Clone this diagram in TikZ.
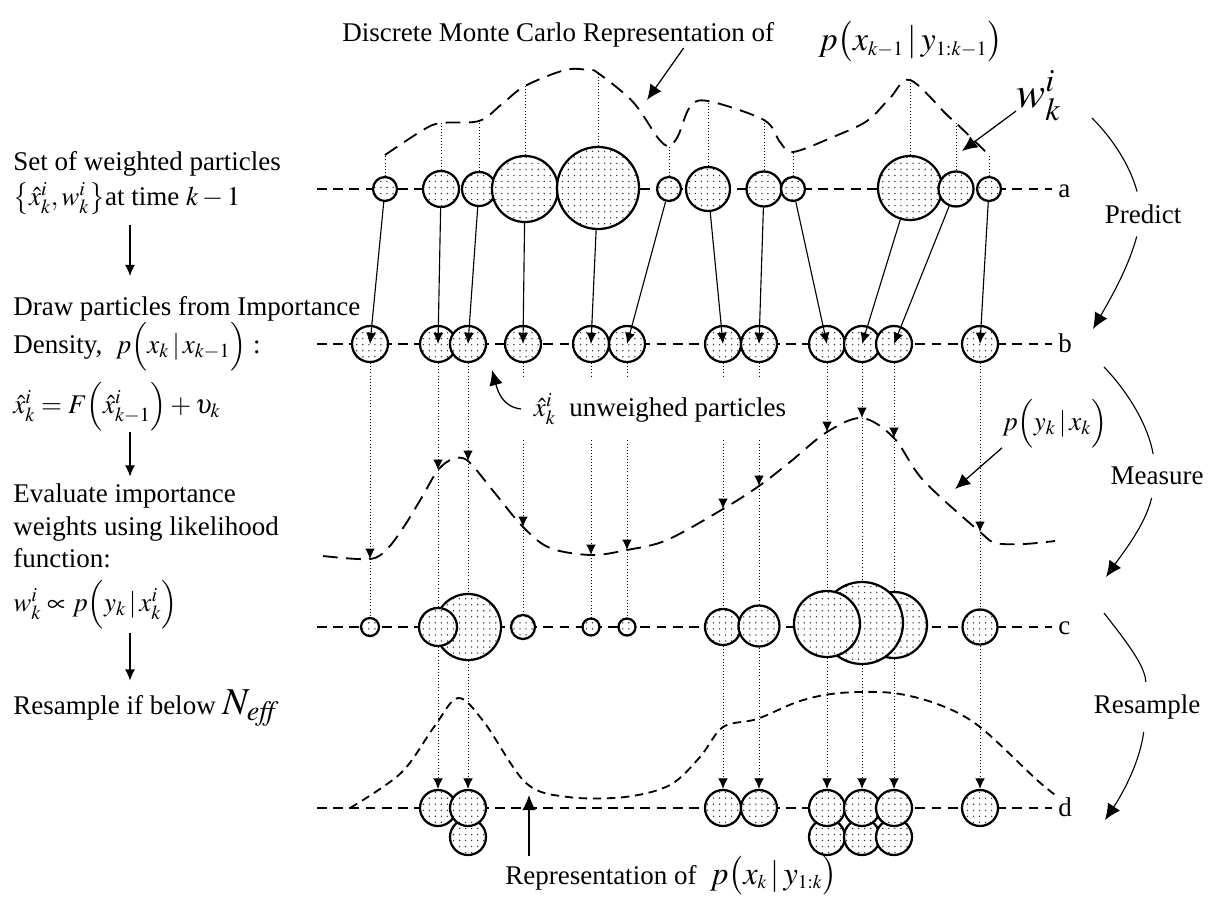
\documentclass[tikz,border=0pt]{standalone}
\usepackage{amsmath}
\usepackage{mathptmx}
\usepackage{fontspec}
\setmainfont{Liberation Serif}
\usetikzlibrary{arrows.meta,positioning,calc,patterns.meta}
\tikzset{
  >={Latex[length=2.8mm,width=2.5mm]},
  part/.style={circle,draw,line width=1.6pt,inner sep=0pt,minimum size=#1*0.05cm,
    preaction={fill=white},pattern={Dots[distance=4.3pt,radius=0.55pt]},pattern color=black!80},
  rowline/.style={line width=1.5pt,dash pattern=on 7pt off 4.5pt},
  dens/.style={line width=1.3pt,dash pattern=on 10.5pt off 6pt},
  post/.style={line width=1.3pt,dash pattern=on 6pt off 4pt},
  guide/.style={line width=0.7pt,dash pattern=on 0.7pt off 1.5pt},
  garr/.style={guide,-{Latex[length=2.6mm,width=2.4mm]}},
  parr/.style={->,line width=0.8pt},
  larr/.style={->,line width=0.8pt},
  bigarr/.style={line width=0.9pt,-{Latex[length=3.8mm,width=3.4mm]}},
  cyc/.style={line width=0.8pt},
  cycarr/.style={cyc,-{Latex[length=4mm,width=3.6mm]}},
  txt/.style={anchor=base west,inner sep=0pt},
  stage/.style={inner ysep=9pt,inner xsep=2pt},
}
\newcommand{\sss}{\scriptscriptstyle}

\begin{document}
\begin{tikzpicture}[x=0.025cm,y=-0.025cm,every node/.style={font=\fontsize{19.2}{23.1}\selectfont}]
\useasboundingbox (0,0) rectangle (1210,901);

% left column
\node[txt] (set1) at (13,170) {Set of weighted particles};
\node[txt] (set2) at (13,205) {$\bigl\{\hat{x}_k^i,w_k^i\bigr\}$at time $k-1$};
\node[txt] (draw1) at (13,315) {Draw particles from Importance};
\node[txt] (draw2) at (13,353) {Density,\ \ $p\Bigl(x_k\,|\,x_{k-1}\Bigr)$\ :};
\node[txt] (prop) at (13,413) {$\hat{x}_k^i=F\Bigl(\hat{x}_{k-1}^i\Bigr)+\upsilon_k$};
\node[txt] (eval1) at (13,502) {Evaluate importance};
\node[txt] (eval2) at (13,535) {weights using likelihood};
\node[txt] (eval3) at (13,567) {function:};
\node[txt] (wprop) at (13,611) {$w_k^i\propto p\Bigl(y_k\,|\,x_k^i\Bigr)$};
\node[txt] (resmp) at (13,714) {Resample if below {\fontsize{27}{30}\selectfont$N_{\mathit{eff}}$}};
\coordinate (lx) at (130,0);
\draw[larr,shorten <=7pt,shorten >=14pt] (set2.south -| lx) -- (draw1.north -| lx);
\draw[larr,shorten <=1pt,shorten >=4.6pt] (prop.south -| lx) -- (eval1.north -| lx);
\draw[larr,shorten <=3pt,shorten >=6pt] (wprop.south -| lx) -- (resmp.north -| lx);

% rows
\node[txt] (la) at (1058,197) {a};
\node[txt] (lb) at (1058,352) {b};
\node[txt] (lc) at (1058,634) {c};
\node[txt] (ld) at (1058,816) {d};
\coordinate (ra) at (317,189); \coordinate (rb) at (317,344);
\coordinate (rc) at (317,627); \coordinate (rd) at (317,808);
\draw[rowline,shorten >=4pt] (ra) -- (ra -| la.west);
\draw[rowline,shorten >=4pt] (rb) -- (rb -| lb.west);
\draw[rowline,shorten >=4pt] (rc) -- (rc -| lc.west);
\draw[rowline,shorten >=4pt] (rd) -- (rd -| ld.west);

% prior density
\coordinate (ta1) at (385,155); \coordinate (ta2) at (441,123); \coordinate (ta3) at (479,121);
\coordinate (ta4) at (525,86); \coordinate (ta5) at (598,73); \coordinate (ta6) at (669,146);
\coordinate (ta7) at (708,101); \coordinate (ta8) at (764,120); \coordinate (ta9) at (793,152);
\coordinate (ta10) at (910,80); \coordinate (ta11) at (956,123); \coordinate (ta12) at (989,155);
\draw[dens] plot[smooth,tension=0.55] coordinates {(ta1) (423,130) (ta2) (ta3) (502,104) (ta4) (565,70) (588,70) (ta5) (633,102) (658,138) (ta6) (678,136) (690,107) (ta7) (ta8) (780,142) (ta9) (833,137) (867,121) (890,98) (ta10) (947,115) (ta11) (ta12)};

% likelihood
\coordinate (l1) at (370,559); \coordinate (l2) at (438,470); \coordinate (l3) at (468,461);
\coordinate (l4) at (523,527); \coordinate (l5) at (591,555); \coordinate (l6) at (627,550);
\coordinate (l7) at (723,509); \coordinate (l8) at (759,486); \coordinate (l9) at (827,432);
\coordinate (l10) at (862,418); \coordinate (l11) at (894,438); \coordinate (l12) at (980,532);
\draw[dens] plot[smooth,tension=0.55] coordinates {(323,556) (l1) (388,548) (405,525) (422,497) (l2) (453,459) (l3) (494,492) (l4) (550,548) (l5) (l6) (667,540) (l7) (l8) (790,462) (l9) (l10) (l11) (923,480) (l12) (996,543) (1024,544) (1055,541)};

% posterior
\draw[post] plot[smooth,tension=0.55] coordinates {(350,808) (401,773) (434,727) (458,698) (484,722) (526,783) (568,797) (625,797) (670,785) (700,757) (723,727) (757,719) (800,701) (840,693) (893,693) (940,705) (980,727) (1037,780) (1058,797)};

% particles a
\node[part=12] (a1) at (385,189) {};
\node[part=18] (a2) at (441,189) {};
\node[part=17] (a3) at (479,189) {};
\node[part=33] (a4) at (525,189) {};
\node[part=41] (a5) at (598,188) {};
\node[part=12] (a6) at (669,189) {};
\node[part=22] (a7) at (708,189) {};
\node[part=17.5] (a8) at (764,189) {};
\node[part=12] (a9) at (793,189) {};
\node[part=32] (a10) at (910,188) {};
\node[part=17.5] (a11) at (956,189) {};
\node[part=12] (a12) at (989,189) {};

% particles b
\node[part=18] (b1) at (370,344) {};
\node[part=18] (b2) at (438,344) {};
\node[part=18] (b3) at (468,344) {};
\node[part=18] (b4) at (523,344) {};
\node[part=18] (b5) at (591,344) {};
\node[part=18] (b6) at (627,344) {};
\node[part=18] (b7) at (723,344) {};
\node[part=18] (b8) at (759,344) {};
\node[part=18] (b9) at (827,344) {};
\node[part=18] (b10) at (862,344) {};
\node[part=18] (b11) at (894,344) {};
\node[part=18] (b12) at (980,344) {};

% particles c
\node[part=9] (c1) at (370,627) {};
\node[part=33] (c3) at (468,627) {};
\node[part=19] (c2) at (438,627) {};
\node[part=12] (c4) at (523,627) {};
\node[part=8.5] (c5) at (591,627) {};
\node[part=8.5] (c6) at (627,627) {};
\node[part=18] (c7) at (723,627) {};
\node[part=20.5] (c8) at (759,626) {};
\node[part=33] (c11) at (894,625) {};
\node[part=41] (c10) at (862,623) {};
\node[part=33] (c9) at (827,624) {};
\node[part=17.5] (c12) at (980,627) {};

% particles d
\node[part=18] (d3) at (468,837) {};
\node[part=18] (d1) at (438,808) {};
\node[part=18] (d2) at (468,808) {};
\node[part=18] (d4) at (723,808) {};
\node[part=18] (d5) at (759,808) {};
\node[part=18] (d10) at (827,837) {};
\node[part=18] (d11) at (862,837) {};
\node[part=18] (d12) at (894,837) {};
\node[part=18] (d6) at (827,808) {};
\node[part=18] (d7) at (862,808) {};
\node[part=18] (d8) at (894,808) {};
\node[part=18] (d9) at (980,808) {};

% weights up to the prior
\draw[guide] (a1) -- (ta1); \draw[guide] (a2) -- (ta2); \draw[guide] (a3) -- (ta3);
\draw[guide] (a4) -- (ta4); \draw[guide] (a5) -- (ta5); \draw[guide] (a6) -- (ta6);
\draw[guide] (a7) -- (ta7); \draw[guide] (a8) -- (ta8); \draw[guide] (a9) -- (ta9);
\draw[guide] (a10) -- (ta10); \draw[guide] (a11) -- (ta11); \draw[guide] (a12) -- (ta12);

% predict a -> b
\draw[parr] (a1) -- (b1.center); \draw[parr] (a2) -- (b2.center); \draw[parr] (a3) -- (b3.center);
\draw[parr] (a4) -- (b4.center); \draw[parr] (a5) -- (b5.center); \draw[parr] (a6) -- (b6.center);
\draw[parr] (a7) -- (b7.center); \draw[parr] (a8) -- (b8.center); \draw[parr] (a9) -- (b9.center);
\draw[parr] (a10) -- (b10.center); \draw[parr] (a11) -- (b11.center); \draw[parr] (a12) -- (b12.center);

% measure b -> likelihood -> c
\draw[garr] (b1) -- (l1); \draw[garr] (b2) -- (l2); \draw[garr] (b3) -- (l3);
\draw[garr] (b4) -- (l4); \draw[garr] (b5) -- (l5); \draw[garr] (b6) -- (l6);
\draw[garr] (b7) -- (l7); \draw[garr] (b8) -- (l8); \draw[garr] (b9) -- (l9);
\draw[garr] (b10) -- (l10); \draw[garr] (b11) -- (l11); \draw[garr] (b12) -- (l12);
\draw[guide] (l1) -- (c1); \draw[guide] (l2) -- (c2); \draw[guide] (l3) -- (c3);
\draw[guide] (l4) -- (c4); \draw[guide] (l5) -- (c5); \draw[guide] (l6) -- (c6);
\draw[guide] (l7) -- (c7); \draw[guide] (l8) -- (c8); \draw[guide] (l9) -- (c9);
\draw[guide] (l10) -- (c10); \draw[guide] (l11) -- (c11); \draw[guide] (l12) -- (c12);

% resample c -> d
\draw[garr] (c2) -- (d1); \draw[garr] (c3) -- (d2); \draw[garr] (c7) -- (d4);
\draw[garr] (c8) -- (d5); \draw[garr] (c9) -- (d6); \draw[garr] (c10) -- (d7);
\draw[garr] (c11) -- (d8); \draw[garr] (c12) -- (d9);

% labels
\node[txt] (dmc) at (342,42) {Discrete Monte Carlo Representation of};
\node[txt] (dmcp) at (818,50) {\fontsize{24}{26}\selectfont$p\bigl(x_{\sss k-1}\,|\,y_{\sss 1:k-1}\bigr)$};
\coordinate (ttip) at (647,100);
\draw[bigarr] ($(dmc.south west)!0.79!(dmc.south east)$) -- (ttip);
\node[txt] (wlab) at (1016,107) {\fontsize{31}{33}\selectfont$w_k^i$};
\coordinate (wtip) at (962,151);
\draw[bigarr] ($(wlab.west)!0.6!(wlab.south west)$) -- (wtip);
\node[txt,fill=white,inner xsep=9pt,inner ysep=11pt] (ulab) at (521,416) {$\hat{x}_k^i$\ \ unweighed particles};
\coordinate (utip) at (492,370);
\draw[bigarr] (ulab.west) .. controls +(-18,-2) and +(6,22) .. (utip);
\node[txt] (lik) at (1002,430) {$p\Bigl(y_k\,|\,x_k\Bigr)$};
\coordinate (ltip) at (955,489);
\draw[bigarr] (lik.south west) -- (ltip);
\node[txt] (rep) at (505,884) {Representation of\ \ {\fontsize{23}{25}\selectfont$p\bigl(x_{\sss k}\,|\,y_{\sss 1:k}\bigr)$}};
\coordinate (rtip) at (529,795);
\draw[bigarr] ($(rep.north west)+(24,0)$) -- (rtip);

% cycle
\node[stage] (pred) at (1143,214) {Predict};
\node[stage] (meas) at (1157,476) {Measure};
\node[stage] (resm) at (1147,707) {Resample};
\coordinate (pr0) at (1092,118); \coordinate (pr1) at (1093,329);
\coordinate (me0) at (1104,367); \coordinate (me1) at (1106,577);
\coordinate (rs0) at (1104,613); \coordinate (rs1) at (1105,820);
\draw[cyc] (pr0) .. controls (1112,138) and (1130,165) .. (pred);
\draw[cycarr] (pred) .. controls (1128,268) and (1112,296) .. (pr1);
\draw[cyc] (me0) .. controls (1128,392) and (1148,425) .. (meas);
\draw[cycarr] (meas) .. controls (1145,525) and (1125,550) .. (me1);
\draw[cyc] (rs0) .. controls (1125,640) and (1145,665) .. (resm);
\draw[cycarr] (resm) .. controls (1140,760) and (1125,790) .. (rs1);
\end{tikzpicture}
\end{document}
